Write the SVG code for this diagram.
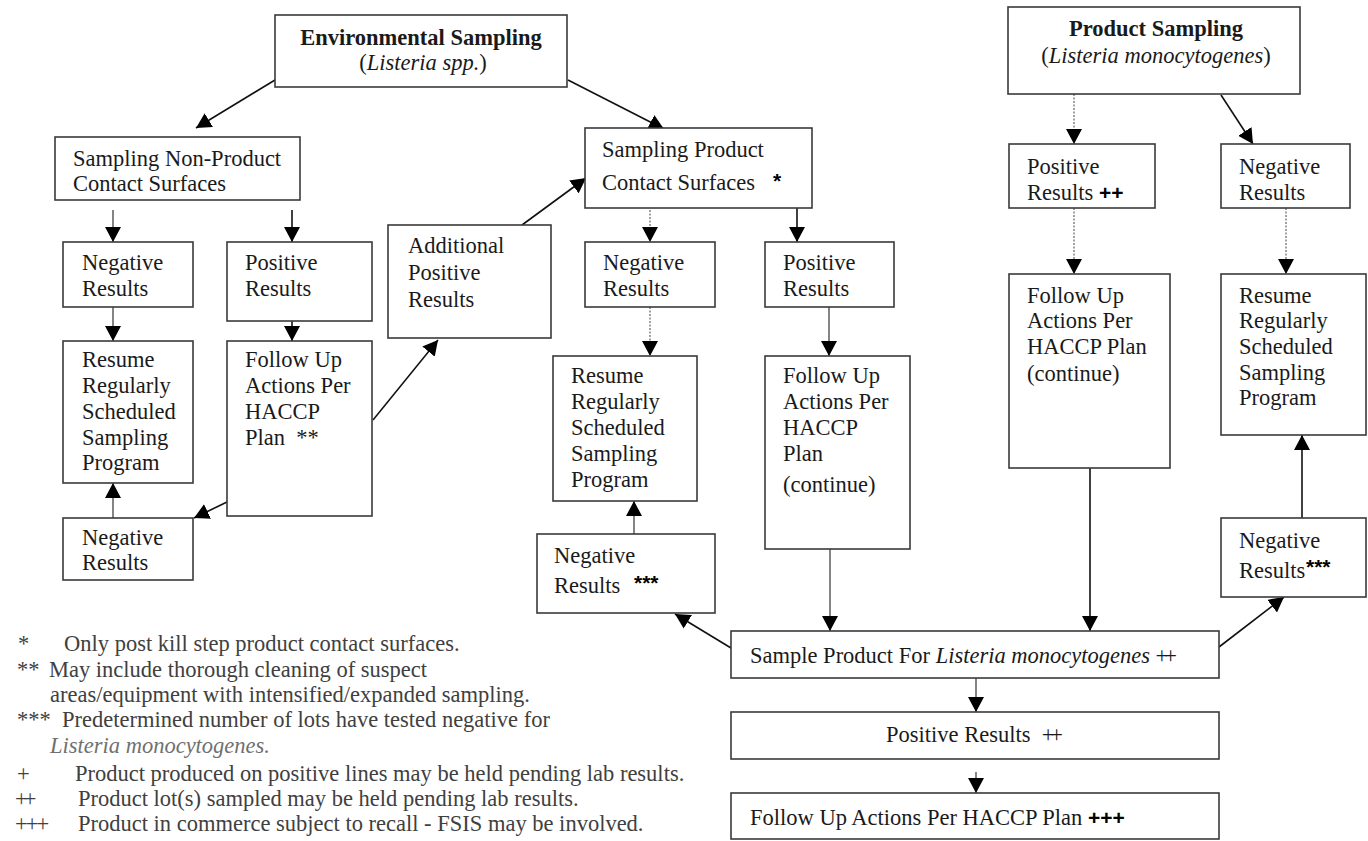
<svg xmlns="http://www.w3.org/2000/svg" width="1368" height="841" viewBox="0 0 1368 841">
<defs>
<marker id="ah" markerUnits="userSpaceOnUse" markerWidth="15" markerHeight="16" refX="15" refY="8" orient="auto" viewBox="0 0 15 16">
<path d="M0,0 L15,8 L0,16 z" fill="#000"/>
</marker>
<style>
.box{fill:#fff;stroke:#3a3a3a;stroke-width:1.6}
.t{font-family:"Liberation Serif","Times New Roman",serif;font-size:22.5px;fill:#1a1a1a}
.b{font-weight:bold}
.i{font-style:italic}
.sym{font-family:"Liberation Sans",Arial,sans-serif;font-weight:bold;font-size:21px;fill:#000}
.lg{font-family:"Liberation Serif","Times New Roman",serif;font-size:22.5px;fill:#404040}
.lgi{font-style:italic;fill:#707070}
.c{stroke:#111;stroke-width:1.6;fill:none;marker-end:url(#ah)}
.d{stroke:#8a8a8a;stroke-width:1.6;fill:none;stroke-dasharray:2 1.5;marker-end:url(#ah)}
.g{stroke:#666;stroke-width:1.6;fill:none;marker-end:url(#ah)}
</style>
</defs>
<rect width="1368" height="841" fill="#fff"/>

<g id="connectors">
<line class="c" x1="275" y1="80" x2="196" y2="128"/>
<line class="c" x1="568" y1="80" x2="664" y2="129"/>
<line class="g" x1="113" y1="210" x2="113" y2="242"/>
<line class="c" x1="292" y1="210" x2="292" y2="242"/>
<line class="g" x1="113" y1="307" x2="113" y2="341"/>
<line class="c" x1="292" y1="307" x2="292" y2="341"/>
<line class="c" x1="373" y1="420" x2="438" y2="340"/>
<line class="c" x1="227" y1="502" x2="194" y2="518"/>
<line class="g" x1="113" y1="518" x2="113" y2="483"/>
<line class="c" x1="522" y1="225" x2="586" y2="178"/>
<line class="d" x1="650" y1="210" x2="650" y2="242"/>
<line class="c" x1="797" y1="208" x2="797" y2="242"/>
<line class="d" x1="650" y1="307" x2="650" y2="356"/>
<line class="g" x1="829" y1="307" x2="829" y2="356"/>
<line class="g" x1="634" y1="534" x2="634" y2="501"/>
<line class="g" x1="830" y1="549" x2="830" y2="631"/>
<line class="c" x1="731" y1="648" x2="675" y2="614"/>
<line class="c" x1="1219" y1="647" x2="1284" y2="597"/>
<line class="g" x1="976" y1="678" x2="976" y2="712"/>
<line class="g" x1="976" y1="772" x2="976" y2="793"/>
<line class="d" x1="1074" y1="94" x2="1074" y2="144"/>
<line class="c" x1="1221" y1="95" x2="1253" y2="144"/>
<line class="d" x1="1074" y1="208" x2="1074" y2="274"/>
<line class="d" x1="1286" y1="208" x2="1286" y2="274"/>
<line class="c" x1="1090" y1="468" x2="1090" y2="631"/>
<line class="c" x1="1302" y1="518" x2="1302" y2="435"/>
</g>

<g id="env-sampling">
<rect class="box" x="275" y="15" width="292" height="72"/>
<text class="t b" x="421" y="45" text-anchor="middle">Environmental Sampling</text>
<text class="t" x="423" y="70" text-anchor="middle">(<tspan class="i">Listeria spp.</tspan>)</text>
</g>

<g id="non-product">
<rect class="box" x="55" y="137" width="245" height="63"/>
<text class="t" x="73" y="166">Sampling Non-Product</text>
<text class="t" x="73" y="191">Contact Surfaces</text>
</g>

<g id="product-contact">
<rect class="box" x="585" y="128" width="227" height="80"/>
<text class="t" x="602" y="157">Sampling Product</text>
<text class="t" x="602" y="190">Contact Surfaces</text>
<text class="sym" x="773" y="188">*</text>
</g>

<g id="product-sampling">
<rect class="box" x="1008" y="7" width="292" height="87"/>
<text class="t b" x="1156" y="36" text-anchor="middle">Product Sampling</text>
<text class="t" x="1156" y="63" text-anchor="middle">(<tspan class="i">Listeria monocytogenes</tspan>)</text>
</g>

<g id="ps-positive">
<rect class="box" x="1009" y="144" width="146" height="64"/>
<text class="t" x="1027" y="174">Positive</text>
<text class="t" x="1027" y="200">Results <tspan class="sym">++</tspan></text>
</g>

<g id="ps-negative">
<rect class="box" x="1221" y="144" width="129" height="64"/>
<text class="t" x="1239" y="174">Negative</text>
<text class="t" x="1239" y="200">Results</text>
</g>

<g id="npc-negative">
<rect class="box" x="63" y="242" width="130" height="65"/>
<text class="t" x="82" y="270">Negative</text>
<text class="t" x="82" y="296">Results</text>
</g>

<g id="npc-positive">
<rect class="box" x="227" y="242" width="145" height="79"/>
<text class="t" x="245" y="270">Positive</text>
<text class="t" x="245" y="296">Results</text>
</g>

<g id="additional-positive">
<rect class="box" x="388" y="225" width="163" height="113"/>
<text class="t" x="408" y="253">Additional</text>
<text class="t" x="408" y="280">Positive</text>
<text class="t" x="408" y="307">Results</text>
</g>

<g id="npc-resume">
<rect class="box" x="63" y="341" width="130" height="142"/>
<text class="t" x="82" y="367">Resume</text>
<text class="t" x="82" y="393">Regularly</text>
<text class="t" x="82" y="419">Scheduled</text>
<text class="t" x="82" y="445">Sampling</text>
<text class="t" x="82" y="470">Program</text>
</g>

<g id="npc-followup">
<rect class="box" x="227" y="341" width="145" height="175"/>
<text class="t" x="245" y="367">Follow Up</text>
<text class="t" x="245" y="393">Actions Per</text>
<text class="t" x="245" y="419">HACCP</text>
<text class="t" x="245" y="445" xml:space="preserve">Plan  **</text>
</g>

<g id="npc-negative2">
<rect class="box" x="63" y="518" width="130" height="62"/>
<text class="t" x="82" y="545">Negative</text>
<text class="t" x="82" y="570">Results</text>
</g>

<g id="pc-negative">
<rect class="box" x="585" y="242" width="130" height="65"/>
<text class="t" x="603" y="270">Negative</text>
<text class="t" x="603" y="296">Results</text>
</g>

<g id="pc-positive">
<rect class="box" x="765" y="242" width="129" height="65"/>
<text class="t" x="783" y="270">Positive</text>
<text class="t" x="783" y="296">Results</text>
</g>

<g id="pc-resume">
<rect class="box" x="553" y="356" width="144" height="145"/>
<text class="t" x="571" y="383">Resume</text>
<text class="t" x="571" y="409">Regularly</text>
<text class="t" x="571" y="435">Scheduled</text>
<text class="t" x="571" y="461">Sampling</text>
<text class="t" x="571" y="487">Program</text>
</g>

<g id="pc-followup">
<rect class="box" x="765" y="356" width="145" height="193"/>
<text class="t" x="783" y="383">Follow Up</text>
<text class="t" x="783" y="409">Actions Per</text>
<text class="t" x="783" y="435">HACCP</text>
<text class="t" x="783" y="461">Plan</text>
<text class="t" x="783" y="492">(continue)</text>
</g>

<g id="pc-negative2">
<rect class="box" x="537" y="534" width="178" height="79"/>
<text class="t" x="554" y="563">Negative</text>
<text class="t" x="554" y="593">Results</text>
<text class="sym" x="634" y="590">***</text>
</g>

<g id="ps-followup">
<rect class="box" x="1009" y="274" width="161" height="194"/>
<text class="t" x="1027" y="303">Follow Up</text>
<text class="t" x="1027" y="328">Actions Per</text>
<text class="t" x="1027" y="354">HACCP Plan</text>
<text class="t" x="1027" y="381">(continue)</text>
</g>

<g id="ps-resume">
<rect class="box" x="1221" y="274" width="145" height="161"/>
<text class="t" x="1239" y="303">Resume</text>
<text class="t" x="1239" y="328">Regularly</text>
<text class="t" x="1239" y="354">Scheduled</text>
<text class="t" x="1239" y="380">Sampling</text>
<text class="t" x="1239" y="405">Program</text>
</g>

<g id="ps-negative2">
<rect class="box" x="1221" y="518" width="145" height="79"/>
<text class="t" x="1239" y="548">Negative</text>
<text class="t" x="1239" y="578">Results</text>
<text class="sym" x="1306" y="574">***</text>
</g>

<g id="sample-product">
<rect class="box" x="731" y="631" width="488" height="47"/>
<text class="t" x="750" y="663">Sample Product For <tspan class="i">Listeria monocytogenes</tspan> <tspan letter-spacing="-4">++</tspan></text>
</g>

<g id="positive-results">
<rect class="box" x="731" y="712" width="488" height="47"/>
<text class="t" x="886" y="742" xml:space="preserve">Positive Results  <tspan letter-spacing="-4">++</tspan></text>
</g>

<g id="followup-final">
<rect class="box" x="731" y="793" width="488" height="46"/>
<text class="t" x="750" y="825">Follow Up Actions Per HACCP Plan <tspan class="sym" font-size="23">+++</tspan></text>
</g>

<g id="legend">
<text class="lg" x="18" y="651">*</text>
<text class="lg" x="64" y="651">Only post kill step product contact surfaces.</text>
<text class="lg" x="17" y="677">**</text>
<text class="lg" x="49" y="677">May include thorough cleaning of suspect</text>
<text class="lg" x="50" y="702">areas/equipment with intensified/expanded sampling.</text>
<text class="lg" x="17" y="727">***</text>
<text class="lg" x="62" y="727">Predetermined number of lots have tested negative for</text>
<text class="lg lgi" x="50" y="753">Listeria monocytogenes.</text>
<text class="lg" x="17" y="781">+</text>
<text class="lg" x="75" y="781">Product produced on positive lines may be held pending lab results.</text>
<text class="lg" x="15" y="806" letter-spacing="-4">++</text>
<text class="lg" x="78" y="806">Product lot(s) sampled may be held pending lab results.</text>
<text class="lg" x="15" y="831" letter-spacing="-2">+++</text>
<text class="lg" x="78" y="831">Product in commerce subject to recall - FSIS may be involved.</text>
</g>
</svg>
